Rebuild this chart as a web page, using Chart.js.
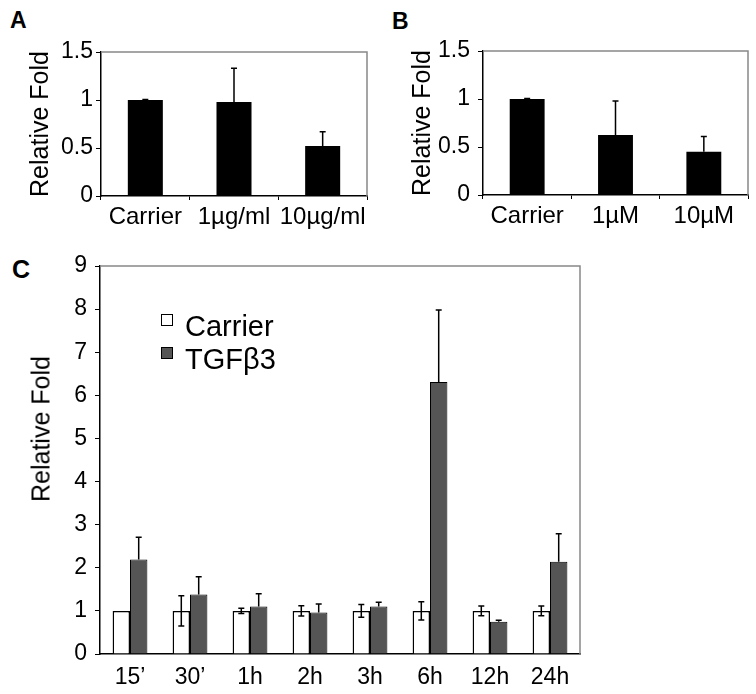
<!DOCTYPE html>
<html>
<head>
<meta charset="utf-8">
<script src="https://cdn.jsdelivr.net/npm/chart.js@4.4.1/dist/chart.umd.min.js"></script>
<style>
  body { margin: 0; background: #fff; font-family: "Liberation Sans", Arial, sans-serif; color: #000; }
  #page { position: relative; width: 756px; height: 694px; overflow: hidden; }
  canvas { position: absolute; }
  .tag { position: absolute; font-weight: bold; line-height: 1; }
  #titleC { position: absolute; left: 41px; top: 429px; font-size: 25px; white-space: nowrap;
            transform: translate(-50%, -50%) rotate(-90deg); }
  #legendC { position: absolute; left: 161px; top: 310px; font-size: 29px; }
  #legendC .row { position: relative; height: 33px; line-height: 33px; padding-left: 24px; white-space: nowrap; }
  #legendC .box { position: absolute; left: 0; top: 4px; width: 12px; height: 12px; box-sizing: border-box; border: 1px solid #000; }
</style>
</head>
<body>
<div id="page">
  <div class="tag" style="left:10px; top:9px; font-size:23px;">A</div>
  <div class="tag" style="left:392px; top:10px; font-size:23px;">B</div>
  <div class="tag" style="left:12px; top:257px; font-size:25px;">C</div>
  <canvas id="chartA" width="375" height="230" style="left:0; top:0;"></canvas>
  <canvas id="chartB" width="378" height="230" style="left:378px; top:0;"></canvas>
  <canvas id="chartC" width="600" height="464" style="left:0; top:230px;"></canvas>
  <div id="titleC">Relative Fold</div>
  <div id="legendC"></div>
</div>
<script>
// panel A
const groupA = ['Carrier', '1µg/ml', '10µg/ml'];
const foldA = [1.0, 0.98, 0.52];
const errA = [0.005, 0.35, 0.15];

// panel B
const groupB = ['Carrier', '1µM', '10µM'];
const foldB = [1.0, 0.625, 0.45];
const errB = [0.005, 0.355, 0.16];

const yTicksAB = [0, 0.5, 1, 1.5];
const yTickLabelsAB = ['0', '0.5', '1', '1.5'];

// panel C
const timePoints = ['15’', '30’', '1h', '2h', '3h', '6h', '12h', '24h'];
const carrierFold = [1, 1, 1, 1, 1, 1, 1, 1];
const carrierErr = [0, 0.35, 0.06, 0.12, 0.15, 0.21, 0.115, 0.115];
const tgfFold = [2.19, 1.38, 1.10, 0.96, 1.10, 6.31, 0.75, 2.14];
const tgfErr = [0.52, 0.41, 0.30, 0.20, 0.10, 1.67, 0.03, 0.65];
const yTicksC = [0, 1, 2, 3, 4, 5, 6, 7, 8, 9];

Chart.defaults.font.family = '"Liberation Sans", Arial, sans-serif';
Chart.defaults.color = '#000';

// grey top + right edge of the plot box
const boxFrame = {
    id: 'boxFrame',
    beforeDatasetsDraw(chart) {
        const { ctx, chartArea: a } = chart;
        ctx.save();
        ctx.strokeStyle = '#888';
        ctx.lineWidth = 1.5;
        ctx.beginPath();
        ctx.moveTo(a.left, a.top);
        ctx.lineTo(a.right, a.top);
        ctx.lineTo(a.right, a.bottom);
        ctx.stroke();
        ctx.restore();
    }
};

// error bars: read from dataset.errors, drawn through the y scale
const errorBars = {
    id: 'errorBars',
    afterDatasetsDraw(chart) {
        const { ctx } = chart;
        const y = chart.scales.y;
        chart.data.datasets.forEach((ds, i) => {
            if (!ds.errors) return;
            const meta = chart.getDatasetMeta(i);
            ctx.save();
            ctx.strokeStyle = '#000';
            ctx.lineWidth = 1.5;
            meta.data.forEach((bar, j) => {
                const e = ds.errors[j];
                if (!e) return;
                const v = ds.data[j];
                const hi = y.getPixelForValue(v + e);
                const lo = y.getPixelForValue(ds.bothWays ? v - e : v);
                const c = 3;
                ctx.beginPath();
                ctx.moveTo(bar.x, hi); ctx.lineTo(bar.x, lo);
                ctx.moveTo(bar.x - c, hi); ctx.lineTo(bar.x + c, hi);
                if (ds.bothWays) { ctx.moveTo(bar.x - c, lo); ctx.lineTo(bar.x + c, lo); }
                ctx.stroke();
            });
            ctx.restore();
        });
    }
};

function smallPanel(id, labels, values, errors, pad) {
    return new Chart(document.getElementById(id), {
        type: 'bar',
        data: {
            labels,
            datasets: [{ data: values, errors, backgroundColor: '#000', barPercentage: 0.395, categoryPercentage: 1 }]
        },
        options: {
            responsive: false,
            animation: false,
            layout: { padding: { top: pad.top, left: pad.left, right: 8, bottom: 0 } },
            plugins: { legend: { display: false }, tooltip: { enabled: false } },
            scales: {
                x: {
                    grid: { drawOnChartArea: false, tickLength: 4, color: '#000' },
                    border: { color: '#000', width: 1.5 },
                    ticks: { font: { size: 24 }, autoSkip: false, maxRotation: 0, padding: 3 },
                    afterFit: s => { s.height = pad.axisH; }
                },
                y: {
                    min: 0, max: 1.5,
                    afterBuildTicks: s => { s.ticks = yTicksAB.map(v => ({ value: v })); },
                    grid: { drawOnChartArea: false, tickLength: 5, color: '#000' },
                    border: { color: '#000', width: 1.5 },
                    ticks: { font: { size: 23 }, padding: pad.tickPad, callback: (v, i) => yTickLabelsAB[i] },
                    title: { display: true, text: 'Relative Fold', font: { size: 25 }, padding: 0 },
                    afterFit: s => { s.width = 75; }
                }
            }
        },
        plugins: [boxFrame, errorBars]
    });
}

smallPanel('chartA', groupA, foldA, errA, { top: 52, left: 26, axisH: 34, tickPad: 3 });
smallPanel('chartB', groupB, foldB, errB, { top: 51, left: 30, axisH: 35, tickPad: 8 });

const chartC = new Chart(document.getElementById('chartC'), {
    type: 'bar',
    data: {
        labels: timePoints,
        datasets: [
            { label: 'Carrier', data: carrierFold, errors: carrierErr, bothWays: true,
              backgroundColor: '#fff', borderColor: '#000', borderWidth: 1.5 },
            { label: 'TGFβ3', data: tgfFold, errors: tgfErr,
              backgroundColor: '#555', borderColor: '#000', borderWidth: 1 }
        ]
    },
    options: {
        responsive: false,
        animation: false,
        datasets: { bar: { categoryPercentage: 0.58, barPercentage: 1 } },
        layout: { padding: { top: 36, left: 20, right: 20, bottom: 0 } },
        plugins: { legend: { display: false }, tooltip: { enabled: false } },
        scales: {
            x: {
                grid: { drawOnChartArea: false, drawTicks: false },
                border: { color: '#000', width: 1.5 },
                ticks: { font: { size: 23 }, autoSkip: false, maxRotation: 0, padding: 10 },
                afterFit: s => { s.height = 40; }
            },
            y: {
                min: 0, max: 9,
                afterBuildTicks: s => { s.ticks = yTicksC.map(v => ({ value: v })); },
                grid: { drawOnChartArea: false, tickLength: 5, color: '#000' },
                border: { color: '#000', width: 1.5 },
                ticks: { font: { size: 23 }, padding: 8 },
                afterFit: s => { s.width = 80; }
            }
        }
    },
    plugins: [boxFrame, errorBars]
});

// legend inside the plot, built from the datasets
const legendC = document.getElementById('legendC');
chartC.data.datasets.forEach(ds => {
    const row = document.createElement('div');
    row.className = 'row';
    const box = document.createElement('span');
    box.className = 'box';
    box.style.background = ds.backgroundColor;
    row.appendChild(box);
    row.appendChild(document.createTextNode(ds.label));
    legendC.appendChild(row);
});
</script>
</body>
</html>
